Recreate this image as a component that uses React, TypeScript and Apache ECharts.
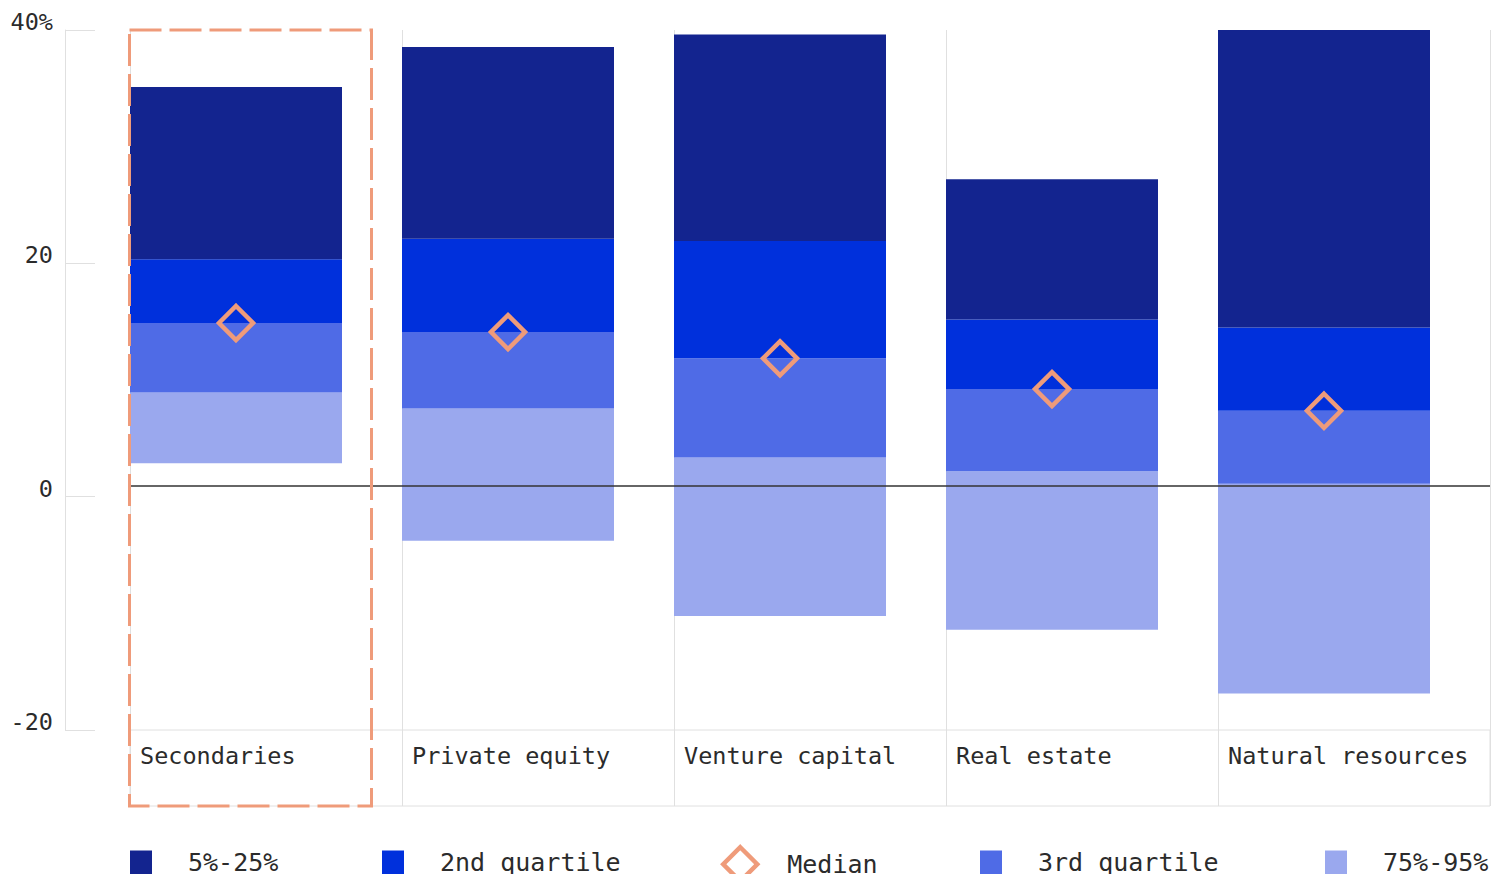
import React, { useEffect, useRef } from "react";
import * as echarts from "echarts";

// Fund categories and their return distribution (percent)
const categories = ["Secondaries", "Private equity", "Venture capital", "Real estate", "Natural resources"];
const top5 = [35.0, 38.5, 39.6, 26.9, 40.0];
const q25 = [19.9, 21.7, 21.5, 14.6, 13.9];
const median = [14.3, 13.5, 11.2, 8.5, 6.6];
const q75 = [8.2, 6.8, 2.5, 1.3, 0.2];
const bottom95 = [2.0, -4.8, -11.4, -12.6, -18.2];
const yTicks = [-20, 0, 20, 40];
// extent of the value scale the bars are drawn on
const valueMin = -21.4;
const valueMax = 40;

const NAVY = "#13248F";
const BLUE = "#0030DC";
const MID = "#4F6BE6";
const LIGHT = "#9AA8EE";
const ORANGE = "#EF9B7A";
const GRIDLINE = "#e0e0e0";
const TEXT = "#2b2b2b";
const MONO = "'DejaVu Sans Mono', 'Liberation Mono', monospace";

const W = 1493;
const H = 874;
const GRID_LEFT = 130;
const GRID_RIGHT = 3;
const GRID_TOP = 30;
const GRID_BOTTOM = 144;
const ROW_H = 76;
const BAR_W = 212;

export default function App() {
  const ref = useRef<HTMLDivElement>(null);

  useEffect(() => {
    document.body.style.margin = "0";
    if (!ref.current) return;
    const chart = echarts.init(ref.current, undefined, { renderer: "svg" });

    const plotW = W - GRID_LEFT - GRID_RIGHT;
    const band = plotW / categories.length;
    const padW = band - BAR_W;

    const diff = (a: number[], b: number[]) => a.map((v, i) => +(v - b[i]).toFixed(2));

    const barBase = {
      type: "bar" as const,
      stack: "range",
      stackStrategy: "all",
      barWidth: BAR_W,
      barGap: "0%",
      xAxisIndex: 0,
      yAxisIndex: 1,
    };

    const legendText = { fontFamily: MONO, fontSize: 25, lineHeight: 24, color: TEXT };
    const squareLegend = (name: string, left: number) => ({
      left,
      top: 850,
      padding: 0,
      itemWidth: 22,
      itemHeight: 24,
      selectedMode: false,
      data: [{ name, icon: "rect" }],
      textStyle: { ...legendText, padding: [0, 0, 0, 31] },
    });

    chart.setOption({
      animation: false,
      backgroundColor: "#ffffff",
      grid: [
        { left: GRID_LEFT, right: GRID_RIGHT, top: GRID_TOP, bottom: GRID_BOTTOM },
        {
          left: GRID_LEFT,
          right: GRID_RIGHT,
          top: H - GRID_BOTTOM,
          height: ROW_H,
          show: true,
          borderColor: GRIDLINE,
          borderWidth: 1,
          backgroundColor: "transparent",
        },
      ],
      xAxis: [
        {
          type: "category",
          gridIndex: 0,
          data: categories,
          boundaryGap: true,
          axisLine: { show: false },
          axisTick: { show: false },
          axisLabel: { show: false },
          splitLine: { show: true, interval: 0, lineStyle: { color: GRIDLINE, width: 1 } },
        },
        {
          type: "category",
          gridIndex: 1,
          data: [...categories, ""],
          boundaryGap: false,
          position: "top",
          axisLine: { show: false },
          axisTick: { show: false },
          splitLine: { show: true, interval: 0, lineStyle: { color: GRIDLINE, width: 1 } },
          axisLabel: {
            inside: true,
            interval: 0,
            align: "left",
            verticalAlign: "middle",
            margin: 26,
            padding: [0, 0, 0, 10],
            fontFamily: MONO,
            fontSize: 23.5,
            color: TEXT,
          },
        },
      ],
      yAxis: [
        {
          // tick scale shown at the left
          type: "value",
          gridIndex: 0,
          min: yTicks[0],
          max: yTicks[yTicks.length - 1],
          interval: 20,
          offset: 65,
          axisLine: { show: true, lineStyle: { color: GRIDLINE, width: 1 } },
          axisTick: { show: true, inside: true, length: 30, lineStyle: { color: GRIDLINE, width: 1 } },
          splitLine: { show: false },
          axisLabel: {
            margin: 12,
            align: "right",
            verticalAlign: "bottom",
            lineHeight: 16,
            fontFamily: MONO,
            fontSize: 23.5,
            color: TEXT,
            formatter: (v: number) => (v === yTicks[yTicks.length - 1] ? `${v}%` : `${v}`),
          },
        },
        {
          // value scale for the bars and medians
          type: "value",
          gridIndex: 0,
          show: false,
          min: valueMin,
          max: valueMax,
          splitLine: { show: false },
        },
        { type: "value", gridIndex: 1, show: false, min: 0, max: 1 },
      ],
      legend: [
        squareLegend("5%-25%", GRID_LEFT),
        squareLegend("2nd quartile", 382),
        {
          left: 721,
          top: 845,
          padding: 0,
          itemWidth: 34,
          itemHeight: 34,
          selectedMode: false,
          data: [
            {
              name: "Median",
              icon: "diamond",
              itemStyle: { color: "rgba(0,0,0,0)", borderColor: ORANGE, borderWidth: 4.5, opacity: 1 },
            },
          ],
          textStyle: { ...legendText, padding: [0, 0, 0, 25] },
        },
        squareLegend("3rd quartile", 980),
        squareLegend("75%-95%", 1325),
      ],
      series: [
        {
          ...barBase,
          name: "base",
          data: bottom95,
          itemStyle: { color: "rgba(0,0,0,0)" },
          silent: true,
        },
        { ...barBase, name: "75%-95%", data: diff(q75, bottom95), itemStyle: { color: LIGHT } },
        { ...barBase, name: "3rd quartile", data: diff(median, q75), itemStyle: { color: MID } },
        { ...barBase, name: "2nd quartile", data: diff(q25, median), itemStyle: { color: BLUE } },
        {
          ...barBase,
          name: "5%-25%",
          data: diff(top5, q25),
          itemStyle: { color: NAVY },
          markLine: {
            silent: true,
            symbol: "none",
            label: { show: false },
            lineStyle: { color: "#333333", width: 1.5, type: "solid" },
            data: [{ yAxis: 0 }],
            z: 10,
          },
        },
        {
          type: "bar",
          name: "pad",
          stack: "pad",
          xAxisIndex: 0,
          yAxisIndex: 1,
          barWidth: padW,
          barGap: "0%",
          data: categories.map(() => 0),
          itemStyle: { color: "rgba(0,0,0,0)" },
          silent: true,
        },
        {
          type: "scatter",
          name: "Median",
          xAxisIndex: 0,
          yAxisIndex: 1,
          data: median,
          symbol: "diamond",
          symbolSize: 34,
          symbolOffset: [-padW / 2, 0],
          itemStyle: { color: "rgba(0,0,0,0)", borderColor: ORANGE, borderWidth: 4.5, opacity: 1 },
          z: 5,
        },
      ],
      graphic: [
        {
          type: "rect",
          z: 100,
          silent: true,
          shape: {
            x: GRID_LEFT - 0.5,
            y: GRID_TOP,
            width: BAR_W + 30,
            height: H - GRID_BOTTOM - GRID_TOP + ROW_H,
          },
          style: { fill: "none", stroke: ORANGE, lineWidth: 3, lineDash: [32, 8] },
        },
      ],
    });

    return () => chart.dispose();
  }, []);

  return <div ref={ref} style={{ width: W, height: H }} />;
}
